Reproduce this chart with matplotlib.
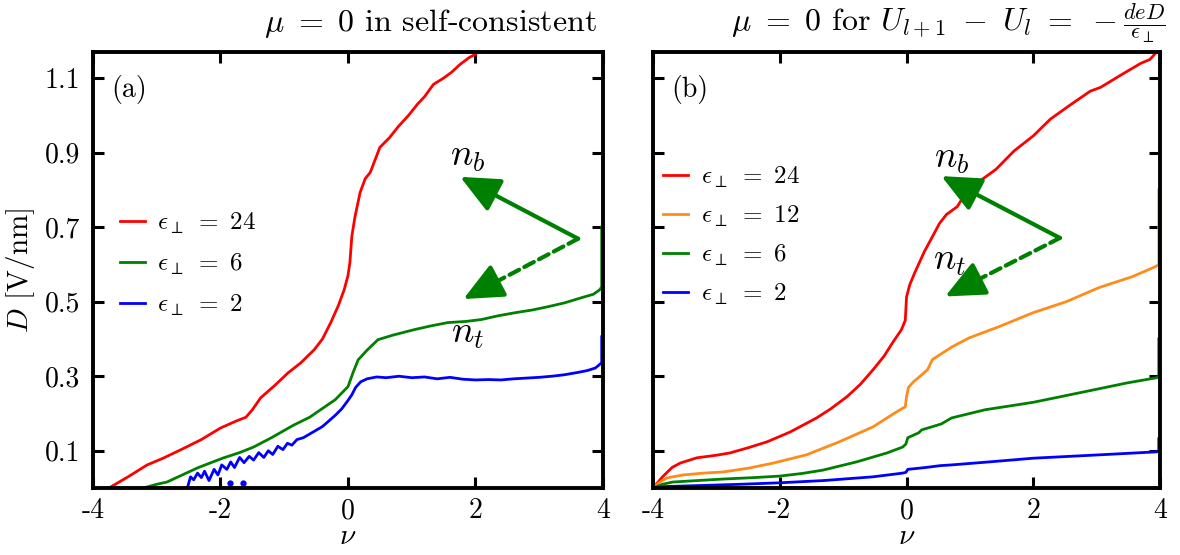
import matplotlib
matplotlib.use("Agg")
import matplotlib.pyplot as plt

plt.rcParams["font.family"] = "serif"
plt.rcParams["font.serif"] = ["cmr10", "DejaVu Serif"]
plt.rcParams["mathtext.fontset"] = "cm"
plt.rcParams["axes.unicode_minus"] = False
plt.rcParams["axes.formatter.use_mathtext"] = True

# ---- (a) self-consistent ----
nu_a24 = [-3.75, -3.45, -3.15, -2.9, -2.63, -2.3, -2.0, -1.75, -1.6, -1.5, -1.37, -1.15,
          -0.94, -0.74, -0.53, -0.4, -0.27, -0.15, -0.06, 0.0, 0.03, 0.06, 0.11, 0.19,
          0.27, 0.35, 0.5, 0.65, 0.79, 0.95, 1.09, 1.2, 1.34, 1.5, 1.62, 1.76, 1.9, 2.0]
D_a24 = [0.0, 0.03, 0.062, 0.08, 0.102, 0.13, 0.161, 0.18, 0.19, 0.21, 0.242, 0.275,
         0.309, 0.336, 0.371, 0.40, 0.444, 0.49, 0.532, 0.57, 0.605, 0.675, 0.728, 0.793,
         0.83, 0.847, 0.914, 0.94, 0.97, 1.0, 1.03, 1.05, 1.083, 1.10, 1.115, 1.137, 1.155, 1.164]

nu_a6 = [-3.21, -3.0, -2.84, -2.6, -2.36, -2.15, -1.95, -1.7, -1.48, -1.2, -0.85, -0.6,
         -0.43, -0.2, 0.0, 0.08, 0.16, 0.3, 0.47, 0.7, 1.04, 1.3, 1.57, 1.85, 2.09, 2.35,
         2.61, 2.9, 3.15, 3.4, 3.67, 3.85, 3.95, 3.98, 3.98]
D_a6 = [0.0, 0.01, 0.016, 0.035, 0.054, 0.068, 0.081, 0.095, 0.11, 0.135, 0.169, 0.19,
        0.21, 0.237, 0.272, 0.31, 0.344, 0.37, 0.398, 0.41, 0.425, 0.435, 0.444, 0.447,
        0.452, 0.462, 0.47, 0.478, 0.487, 0.497, 0.511, 0.52, 0.532, 0.54, 0.70]

nu_a2 = [-2.52, -2.47, -2.42, -2.36, -2.3, -2.25, -2.18, -2.1, -2.04, -1.98, -1.9, -1.84,
         -1.78, -1.7, -1.63, -1.55, -1.48, -1.4, -1.32, -1.25, -1.18, -1.1, -1.02, -0.95,
         -0.88, -0.8, -0.7, -0.6, -0.5, -0.4, -0.3, -0.2, -0.1, 0.0, 0.06, 0.12, 0.2, 0.3,
         0.45, 0.6, 0.8, 1.0, 1.2, 1.4, 1.6, 1.8, 2.0, 2.2, 2.4, 2.6, 2.8, 3.0, 3.2, 3.4,
         3.6, 3.75, 3.88, 3.98, 3.98]
D_a2 = [0.0, 0.03, 0.022, 0.04, 0.028, 0.045, 0.02, 0.05, 0.035, 0.062, 0.05, 0.07,
        0.055, 0.082, 0.068, 0.085, 0.075, 0.095, 0.082, 0.10, 0.09, 0.112, 0.103, 0.12,
        0.115, 0.13, 0.135, 0.145, 0.155, 0.165, 0.18, 0.195, 0.212, 0.235, 0.25, 0.27,
        0.285, 0.293, 0.298, 0.296, 0.30, 0.296, 0.298, 0.293, 0.297, 0.292, 0.29, 0.291,
        0.29, 0.293, 0.295, 0.297, 0.3, 0.304, 0.31, 0.315, 0.322, 0.336, 0.406]
nu_a2_dots = [-1.85, -1.65]
D_a2_dots = [0.013, 0.013]

# ---- (b) mu = 0 for fixed potential step ----
nu_b24 = [-4.0, -3.85, -3.7, -3.57, -3.31, -3.0, -2.79, -2.5, -2.2, -1.84, -1.42, -1.2,
          -0.94, -0.73, -0.53, -0.35, -0.22, -0.08, -0.02, 0.0, 0.05, 0.13, 0.28, 0.41,
          0.52, 0.63, 0.8, 0.94, 1.15, 1.41, 1.7, 2.0, 2.27, 2.6, 2.9, 3.06, 3.4, 3.7, 3.84, 4.0]
D_b24 = [0.0, 0.03, 0.055, 0.067, 0.081, 0.088, 0.094, 0.108, 0.124, 0.15, 0.188, 0.212,
         0.245, 0.278, 0.317, 0.355, 0.39, 0.425, 0.45, 0.513, 0.545, 0.578, 0.634, 0.675,
         0.71, 0.734, 0.755, 0.793, 0.823, 0.855, 0.905, 0.945, 0.99, 1.03, 1.065, 1.075,
         1.11, 1.14, 1.15, 1.18]

nu_b12 = [-4.0, -3.9, -3.78, -3.53, -3.2, -2.9, -2.5, -2.1, -1.58, -1.06, -0.53, -0.16,
          -0.02, 0.0, 0.03, 0.11, 0.2, 0.33, 0.41, 0.53, 0.72, 0.99, 1.46, 1.99, 2.52,
          3.04, 3.56, 3.94, 3.98, 3.98]
D_b12 = [0.0, 0.015, 0.027, 0.035, 0.04, 0.043, 0.053, 0.067, 0.089, 0.124, 0.164, 0.204,
         0.218, 0.245, 0.27, 0.285, 0.298, 0.317, 0.345, 0.358, 0.379, 0.403, 0.433, 0.47,
         0.50, 0.538, 0.567, 0.595, 0.60, 0.80]

nu_b6 = [-4.0, -3.85, -3.69, -3.3, -2.9, -2.4, -2.0, -1.65, -1.32, -0.79, -0.31, -0.06,
         -0.01, 0.02, 0.19, 0.24, 0.55, 0.71, 1.24, 2.0, 2.8, 3.48, 3.95, 3.98, 3.98]
D_b6 = [0.0, 0.01, 0.016, 0.02, 0.024, 0.028, 0.032, 0.039, 0.048, 0.07, 0.094, 0.11,
        0.118, 0.135, 0.148, 0.156, 0.172, 0.188, 0.21, 0.23, 0.258, 0.282, 0.296, 0.298, 0.40]

nu_b2 = [-4.0, -3.8, -3.2, -2.63, -2.0, -1.31, -0.53, -0.06, -0.01, 0.02, 0.3, 0.53, 0.71,
         1.3, 2.0, 3.04, 3.94, 3.98, 3.98]
D_b2 = [0.0, 0.004, 0.007, 0.01, 0.014, 0.02, 0.03, 0.04, 0.042, 0.05, 0.055, 0.06, 0.062,
        0.07, 0.08, 0.089, 0.097, 0.099, 0.132]

xticks = [-4, -2, 0, 2, 4]
xticklabels = ["-4", "-2", "0", "2", "4"]
yticks = [0.1, 0.3, 0.5, 0.7, 0.9, 1.1]
yticklabels = ["0.1", "0.3", "0.5", "0.7", "0.9", "1.1"]

GREEN = "#008000"
HEAD = "-|>,head_length=1.1,head_width=0.5"

fig = plt.figure(figsize=(11.8, 5.55), dpi=100)
ax_a = fig.add_axes([0.0788, 0.1207, 0.4322, 0.7856])
ax_b = fig.add_axes([0.5534, 0.1207, 0.4297, 0.7856])


def style_axis(ax, show_ylabels):
    ax.set_xlim(-4, 4)
    ax.set_ylim(0, 1.17)
    ax.set_xticks(xticks)
    ax.set_xticklabels(xticklabels)
    ax.set_yticks(yticks)
    ax.set_yticklabels(yticklabels if show_ylabels else [])
    ax.tick_params(direction="in", top=True, right=True, length=8, width=2.2,
                   labelsize=20, pad=9)
    ax.tick_params(axis="x", pad=7)
    for sp in ax.spines.values():
        sp.set_linewidth(2.8)
    ax.set_xlabel(r"$\nu$", fontsize=21, labelpad=0)


def draw_arrows(ax, vertex, tip_b, tip_t):
    ax.annotate("", xy=tip_b, xytext=vertex,
                arrowprops=dict(arrowstyle=HEAD, mutation_scale=22, lw=3, color=GREEN,
                                shrinkA=0, shrinkB=0))
    # dashed shaft, then a solid head on the last bit
    ax.annotate("", xy=tip_t, xytext=vertex,
                arrowprops=dict(arrowstyle="-", lw=3, color=GREEN,
                                linestyle=(0, (2.6, 1.4)), shrinkA=0, shrinkB=10))
    hx = tip_t[0] + 0.08 * (vertex[0] - tip_t[0])
    hy = tip_t[1] + 0.08 * (vertex[1] - tip_t[1])
    ax.annotate("", xy=tip_t, xytext=(hx, hy),
                arrowprops=dict(arrowstyle=HEAD, mutation_scale=22, lw=3, color=GREEN,
                                shrinkA=0, shrinkB=0))


# (a)
ax_a.plot(nu_a24, D_a24, color="red", lw=2, label=r"$\epsilon_\perp\ =\ 24$")
ax_a.plot(nu_a6, D_a6, color=GREEN, lw=2, label=r"$\epsilon_\perp\ =\ 6$")
ax_a.plot(nu_a2, D_a2, color="blue", lw=2, label=r"$\epsilon_\perp\ =\ 2$")
ax_a.plot(nu_a2_dots, D_a2_dots, "o", color="blue", ms=3.5)
style_axis(ax_a, True)
ax_a.set_ylabel(r"$D$ [V/nm]", fontsize=21, labelpad=6)
ax_a.text(0.035, 0.915, "(a)", transform=ax_a.transAxes, fontsize=20, va="center")
ax_a.legend(loc="upper left", bbox_to_anchor=(0.052, 0.635), frameon=False, fontsize=18,
            handlelength=1.0, handletextpad=0.5, labelspacing=0.62, borderpad=0,
            borderaxespad=0)
draw_arrows(ax_a, (3.61, 0.669), (1.76, 0.835), (1.81, 0.507))
ax_a.text(1.88, 0.887, r"$n_b$", fontsize=27, ha="center", va="center")
ax_a.text(1.88, 0.411, r"$n_t$", fontsize=27, ha="center", va="center")

# (b)
ax_b.plot(nu_b24, D_b24, color="red", lw=2, label=r"$\epsilon_\perp\ =\ 24$")
ax_b.plot(nu_b12, D_b12, color="#ff8c1a", lw=2, label=r"$\epsilon_\perp\ =\ 12$")
ax_b.plot(nu_b6, D_b6, color=GREEN, lw=2, label=r"$\epsilon_\perp\ =\ 6$")
ax_b.plot(nu_b2, D_b2, color="blue", lw=2, label=r"$\epsilon_\perp\ =\ 2$")
style_axis(ax_b, False)
ax_b.text(0.035, 0.915, "(b)", transform=ax_b.transAxes, fontsize=20, va="center")
ax_b.legend(loc="upper left", bbox_to_anchor=(0.02, 0.742), frameon=False, fontsize=18,
            handlelength=1.0, handletextpad=0.5, labelspacing=0.55, borderpad=0,
            borderaxespad=0)
draw_arrows(ax_b, (2.42, 0.671), (0.55, 0.837), (0.61, 0.514))
ax_b.text(0.71, 0.882, r"$n_b$", fontsize=27, ha="center", va="center")
ax_b.text(0.68, 0.608, r"$n_t$", fontsize=27, ha="center", va="center")

fig.text(597 / 1180, 1 - 31 / 555, r"$\mu\ =\ 0$ in self-consistent", fontsize=23,
         ha="right", va="baseline")
fig.text(1166 / 1180, 1 - 31 / 555,
         r"$\mu\ =\ 0$ for $U_{l+1}\ -\ U_l\ =\ -\frac{deD}{\epsilon_\perp}$", fontsize=23,
         ha="right", va="baseline")

fig.savefig("out.png", dpi=100)
